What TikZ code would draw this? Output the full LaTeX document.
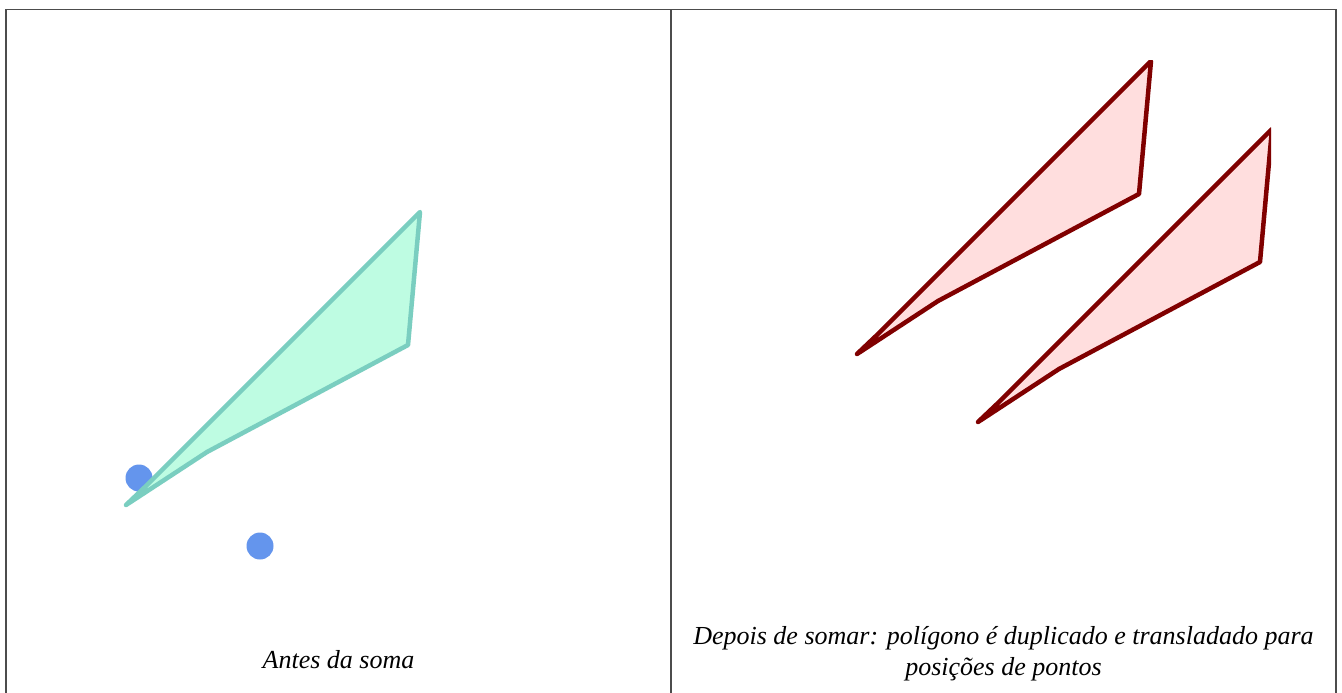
\documentclass[tikz,border=0pt]{standalone}
\usepackage{fontspec}
\setmainfont{Liberation Serif}
\begin{document}
\begin{tikzpicture}[x=1pt,y=-1pt,
  frame/.style={draw=black!70, line width=1.2pt},
  greenpoly/.style={draw={rgb,255:red,122;green,206;blue,192}, fill={rgb,255:red,190;green,252;blue,226}, line width=4.5pt, line join=round},
  redpoly/.style={draw={rgb,255:red,128;green,0;blue,0}, fill={rgb,255:red,255;green,222;blue,222}, line width=4.5pt, line join=round},
  dot/.style={circle, fill={rgb,255:red,100;green,149;blue,237}, inner sep=0pt, minimum size=27pt},
  captext/.style={font=\itshape\fontsize{26}{31}\selectfont, align=center}]
\useasboundingbox (0,0) rectangle (1342,693);
\fill[white] (0,0) rectangle (1342,693);
% frame
\draw[frame] (6,693) -- (6,9.5) -- (1336,9.5) -- (1336,693);
\draw[frame] (671,9.5) -- (671,693);
% left panel
\node[dot] (p1) at (139,478) {};
\node[dot] (p2) at (260,546) {};
\begin{scope}
\clip (6,61) rectangle (606,600);
\draw[greenpoly] (420,212) -- (408,345) -- (207,452) -- (126,505) -- (146,486) -- cycle;
\end{scope}
% right panel
\begin{scope}
\clip (671,61) rectangle (1271,600);
\draw[redpoly] (1151,61) -- (1139,194) -- (938,301) -- (857,354) -- (877,335) -- cycle;
\draw[redpoly] (1272,129) -- (1260,262) -- (1059,369) -- (978,422) -- (998,403) -- cycle;
\end{scope}
\node[captext] (t1) at (338.5,660) {Antes da soma};
\node[captext] (t2) at (1003.5,654) {Depois de somar: polígono é duplicado e transladado para\\posições de pontos};
\end{tikzpicture}
\end{document}
